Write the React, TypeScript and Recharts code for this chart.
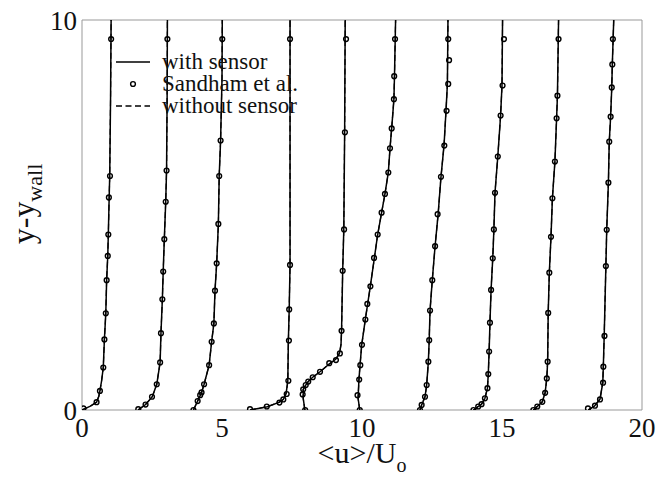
import React from 'react';
import { ScatterChart, Scatter, XAxis, YAxis, ReferenceLine } from 'recharts';

// x-axis ticks and y-axis ticks
const xTicks = [0, 5, 10, 15, 20];
const yTicks = [0, 10];
const legendLabels = ['with sensor', 'Sandham et al.', 'without sensor'];

// Profiles: [<u>/Uo + offset, y - ywall]
const line0 = [[0, 0], [0.3, 0.1], [0.52, 0.2], [0.6, 0.35], [0.64, 0.49], [0.7, 0.75], [0.76, 1.09], [0.8, 1.81], [0.85, 2.48], [0.88, 3.33], [0.92, 3.95], [0.94, 4.5], [0.97, 5.45], [0.99, 6.0], [1.02, 8], [1.04, 10]];
const dots0 = [[0.05, 0.04], [0.52, 0.2], [0.64, 0.49], [0.76, 1.09], [0.8, 1.81], [0.85, 2.48], [0.88, 3.33], [0.92, 3.95], [0.94, 4.5], [0.96, 5.45], [1.0, 6.0], [1.04, 9.51]];

const line1 = [[2.0, 0], [2.27, 0.14], [2.51, 0.34], [2.67, 0.66], [2.79, 1.22], [2.82, 1.97], [2.87, 2.84], [2.9, 3.55], [2.94, 4.38], [2.99, 5.34], [3.02, 6.14], [3.04, 8], [3.05, 10]];
const dots1 = [[2.01, 0.02], [2.27, 0.14], [2.5, 0.34], [2.67, 0.66], [2.79, 1.22], [2.82, 1.97], [2.87, 2.84], [2.9, 3.55], [2.94, 4.38], [2.99, 5.34], [3.02, 6.14], [3.05, 9.51]];

const line2 = [[3.98, 0], [4.13, 0.23], [4.27, 0.45], [4.36, 0.66], [4.54, 1.15], [4.63, 1.75], [4.71, 2.22], [4.75, 3.06], [4.81, 3.76], [4.87, 4.77], [4.9, 6.0], [4.95, 6.91], [5.0, 8.5], [5.01, 10]];
const dots2 = [[3.98, 0], [4.13, 0.23], [4.22, 0.38], [4.27, 0.45], [4.36, 0.66], [4.54, 1.15], [4.63, 1.75], [4.71, 2.22], [4.75, 3.06], [4.81, 3.76], [4.87, 4.77], [4.9, 6.0], [4.95, 6.91], [5.01, 9.51]];

const line3 = [[6.0, 0], [6.62, 0.085], [7.05, 0.2], [7.19, 0.27], [7.29, 0.43], [7.35, 0.73], [7.37, 1.77], [7.4, 2.58], [7.43, 3.72], [7.43, 10]];
const dots3 = [[6.0, 0.02], [6.6, 0.09], [7.05, 0.19], [7.19, 0.27], [7.31, 0.41], [7.37, 0.75], [7.39, 1.78], [7.4, 2.58], [7.43, 3.72], [7.43, 9.51]];

const line4 = [[7.96, 0], [7.9, 0.3], [7.9, 0.53], [7.99, 0.64], [8.08, 0.73], [8.24, 0.84], [8.5, 0.98], [8.83, 1.18], [9.06, 1.3], [9.2, 1.46], [9.25, 1.68], [9.27, 2.03], [9.31, 3.57], [9.35, 4.63], [9.38, 7.12], [9.4, 10]];
const dots4 = [[7.97, 0], [7.88, 0.4], [7.9, 0.53], [7.99, 0.64], [8.08, 0.73], [8.24, 0.84], [8.5, 0.98], [8.83, 1.2], [9.07, 1.28], [9.21, 1.45], [9.27, 2.03], [9.31, 3.57], [9.36, 4.63], [9.39, 7.12], [9.43, 9.51]];

const line5 = [[9.92, 0], [9.86, 0.3], [9.89, 0.77], [9.93, 1.15], [9.99, 1.67], [10.12, 2.33], [10.2, 2.71], [10.29, 3.14], [10.44, 3.89], [10.56, 4.5], [10.7, 5.06], [10.82, 5.54], [10.94, 6.09], [11.0, 6.71], [11.06, 7.22], [11.14, 7.97], [11.16, 8.56], [11.2, 10]];
const dots5 = [[9.92, 0], [9.84, 0.38], [9.9, 0.78], [9.94, 1.15], [10.0, 1.67], [10.12, 2.32], [10.19, 2.72], [10.3, 3.17], [10.43, 3.9], [10.56, 4.5], [10.7, 5.06], [10.82, 5.54], [10.94, 6.09], [11.0, 6.71], [11.06, 7.22], [11.14, 7.97], [11.15, 8.56], [11.18, 9.51]];

const line6 = [[12.07, 0], [12.13, 0.13], [12.25, 0.34], [12.31, 0.64], [12.37, 1.24], [12.4, 1.79], [12.43, 2.55], [12.51, 3.33], [12.61, 4.2], [12.72, 5.03], [12.82, 5.97], [12.93, 6.79], [13.0, 7.67], [13.05, 8.36], [13.07, 10]];
const dots6 = [[12.07, 0], [12.13, 0.13], [12.25, 0.34], [12.31, 0.64], [12.37, 1.24], [12.4, 1.79], [12.43, 2.55], [12.51, 3.33], [12.61, 4.2], [12.7, 5.02], [12.82, 5.98], [12.94, 6.78], [13.02, 7.67], [13.08, 8.36], [13.11, 8.97], [13.08, 9.51]];

const line7 = [[13.98, 0], [14.15, 0.09], [14.27, 0.15], [14.39, 0.3], [14.48, 0.56], [14.51, 0.92], [14.54, 1.5], [14.57, 2.24], [14.61, 3.08], [14.67, 3.89], [14.71, 4.62], [14.75, 5.57], [14.85, 6.5], [14.95, 7.55], [15.0, 8.32], [15.02, 10]];
const dots7 = [[13.98, 0], [14.15, 0.09], [14.27, 0.15], [14.39, 0.3], [14.48, 0.56], [14.51, 0.92], [14.54, 1.5], [14.57, 2.24], [14.61, 3.08], [14.67, 3.89], [14.71, 4.63], [14.75, 5.57], [14.85, 6.5], [14.95, 7.55], [15.02, 8.32], [15.07, 9.51]];

const line8 = [[16.12, 0], [16.26, 0.09], [16.44, 0.21], [16.54, 0.44], [16.6, 0.81], [16.63, 1.24], [16.65, 2.49], [16.69, 3.52], [16.75, 4.44], [16.8, 5.43], [16.89, 6.37], [16.95, 7.48], [16.98, 8.06], [17.02, 10]];
const dots8 = [[16.12, 0], [16.26, 0.09], [16.44, 0.21], [16.54, 0.44], [16.6, 0.81], [16.63, 1.24], [16.65, 2.49], [16.69, 3.52], [16.75, 4.44], [16.8, 5.43], [16.89, 6.37], [16.95, 7.48], [16.98, 8.06], [17.02, 9.51]];

const line9 = [[18.08, 0], [18.3, 0.1], [18.5, 0.28], [18.6, 0.7], [18.62, 1.15], [18.65, 1.9], [18.71, 3.69], [18.74, 4.62], [18.8, 5.83], [18.83, 6.88], [18.88, 7.52], [18.92, 8.27], [18.94, 8.86], [18.99, 10]];
const dots9 = [[18.07, 0.04], [18.32, 0.11], [18.5, 0.27], [18.61, 0.7], [18.62, 1.11], [18.66, 1.9], [18.71, 3.69], [18.74, 4.62], [18.8, 5.83], [18.83, 6.88], [18.88, 7.52], [18.92, 8.27], [18.94, 8.86], [18.96, 9.51]];

const profileLines = [line0, line1, line2, line3, line4, line5, line6, line7, line8, line9];
const profileDots = [dots0, dots1, dots2, dots3, dots4, dots5, dots6, dots7, dots8, dots9];

const toPts = (arr: number[][]) => arr.map(([x, y]) => ({ x, y }));

const serif = "'Liberation Serif', 'Times New Roman', serif";

const NoShape = () => <g />;
const OpenCircle = (props: any) => (
  <circle cx={props.cx} cy={props.cy} r={2.4} fill="none" stroke="#000" strokeWidth={1.4} />
);

const XLabel = (props: any) => {
  const vb = props.viewBox || { x: 82, width: 560 };
  const cx = vb.x + vb.width / 2;
  return (
    <text x={cx} y={463} textAnchor="middle" fontFamily={serif} fontSize={30} fill="#111">
      <tspan>&lt;u&gt;/U</tspan>
      <tspan dy={9} fontSize={20}>o</tspan>
    </text>
  );
};

const YLabel = () => (
  <text x={34} y={204} transform="rotate(-90, 34, 204)" textAnchor="middle" fontFamily={serif} fontSize={32} fill="#111">
    <tspan>y-y</tspan>
    <tspan dy={8} fontSize={22}>wall</tspan>
  </text>
);

const LegendBox = () => (
  <div style={{ position: 'absolute', left: 112, top: 51, fontFamily: serif, fontSize: 23, color: '#111', lineHeight: '22px', whiteSpace: 'nowrap' }}>
    {legendLabels.map((label, i) => (
      <div key={label} style={{ display: 'flex', alignItems: 'center', height: 22 }}>
        <svg width={46} height={22}>
          {i === 0 && <line x1={4} x2={38} y1={11} y2={11} stroke="#000" strokeWidth={1.5} />}
          {i === 1 && <circle cx={21} cy={11} r={2.4} fill="none" stroke="#000" strokeWidth={1.4} />}
          {i === 2 && <line x1={4} x2={38} y1={11} y2={11} stroke="#000" strokeWidth={1.5} strokeDasharray="6 3.5" />}
        </svg>
        <span style={{ marginLeft: 4 }}>{label}</span>
      </div>
    ))}
  </div>
);

export default function App() {
  return (
    <div style={{ position: 'absolute', left: 0, top: 0, width: 660, height: 479, background: '#fff' }}>
      <ScatterChart width={660} height={479} margin={{ top: 20, right: 18, bottom: 24, left: 22 }}>
        <XAxis
          type="number"
          dataKey="x"
          domain={[0, 20]}
          ticks={xTicks}
          allowDataOverflow
          stroke="#999"
          tickLine={false}
          tickSize={0}
          tickMargin={8}
          height={45}
          tick={{ fontFamily: serif, fontSize: 27, fill: '#111' }}
          label={<XLabel />}
        />
        <YAxis
          type="number"
          dataKey="y"
          domain={[0, 10]}
          ticks={yTicks}
          allowDataOverflow
          stroke="#999"
          tickLine={false}
          tickSize={0}
          tickMargin={5}
          width={60}
          tick={{ fontFamily: serif, fontSize: 27, fill: '#111' }}
          label={<YLabel />}
        />
        <ReferenceLine y={10} stroke="#999" />
        <ReferenceLine x={20} stroke="#999" />
        {profileLines.map((ln, i) => (
          <Scatter
            key={'ws' + i}
            data={toPts(ln)}
            line={{ stroke: '#000', strokeWidth: 1.5 }}
            lineType="joint"
            shape={NoShape}
            isAnimationActive={false}
          />
        ))}
        {profileLines.map((ln, i) => (
          <Scatter
            key={'wo' + i}
            data={toPts(ln)}
            line={{ stroke: '#000', strokeWidth: 1.2, strokeDasharray: '6 3.5' }}
            lineType="joint"
            shape={NoShape}
            isAnimationActive={false}
          />
        ))}
        {profileDots.map((d, i) => (
          <Scatter key={'sd' + i} data={toPts(d)} shape={OpenCircle} isAnimationActive={false} />
        ))}
      </ScatterChart>
      <LegendBox />
    </div>
  );
}
